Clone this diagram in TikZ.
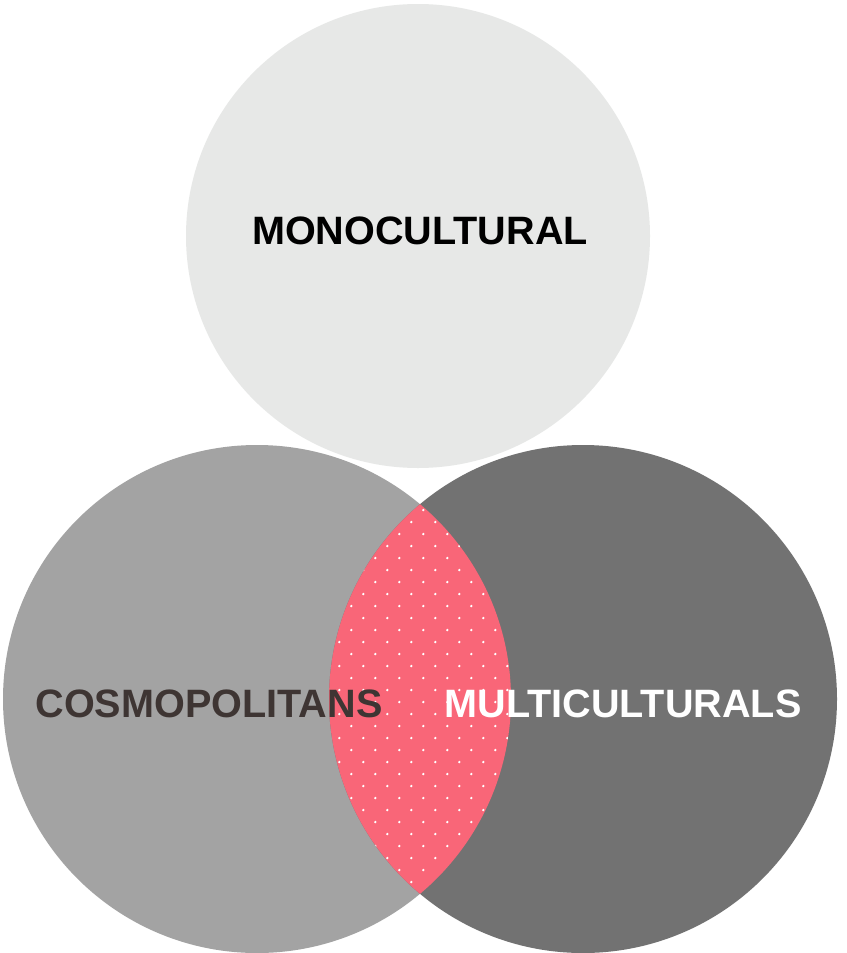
\documentclass[tikz,border=0pt]{standalone}
\usepackage{fontspec}
\setmainfont{Liberation Sans}
\definecolor{topc}{HTML}{E7E8E7}
\definecolor{leftc}{HTML}{A3A3A3}
\definecolor{rightc}{HTML}{727272}
\definecolor{lensc}{HTML}{F96678}
\definecolor{cosmoc}{HTML}{3E3533}
\tikzset{
  lbl/.style={font=\fontsize{39.6}{39.6}\selectfont\bfseries, inner sep=0pt},
  dot/.style={fill=white, draw=none},
}
\begin{document}
\begin{tikzpicture}[x=1pt,y=-1pt]
\useasboundingbox (0,0) rectangle (846,953);
\fill[white] (0,0) rectangle (846,953);
\coordinate (ct) at (418,236);
\coordinate (cl) at (257,699);
\coordinate (cr) at (583,699);
\fill[topc] (ct) circle[radius=232];
\fill[leftc] (cl) circle[radius=254];
\fill[rightc] (cr) circle[radius=254];
\begin{scope}
  \clip (cl) circle[radius=254];
  \fill[lensc] (cr) circle[radius=254];
  \clip (cr) circle[radius=254];
  \foreach \j in {-1,...,33}{
    \pgfmathsetmacro{\yy}{510+12*\j}
    \pgfmathsetmacro{\off}{12*mod(\j+2,2)}
    \foreach \k in {-5,...,5}{
      \fill[dot] ({423.3+\off+24*\k},\yy) circle[radius=1.3];
    }
  }
\end{scope}
\node[lbl, text=black] (mono) at (420,231) {MONOCULTURAL};
\node[lbl, text=cosmoc] (cosmo) at (209,704) {COSMOPOLITANS};
\node[lbl, text=white] (multi) at (623,704) {MULTICULTURALS};
\end{tikzpicture}
\end{document}
